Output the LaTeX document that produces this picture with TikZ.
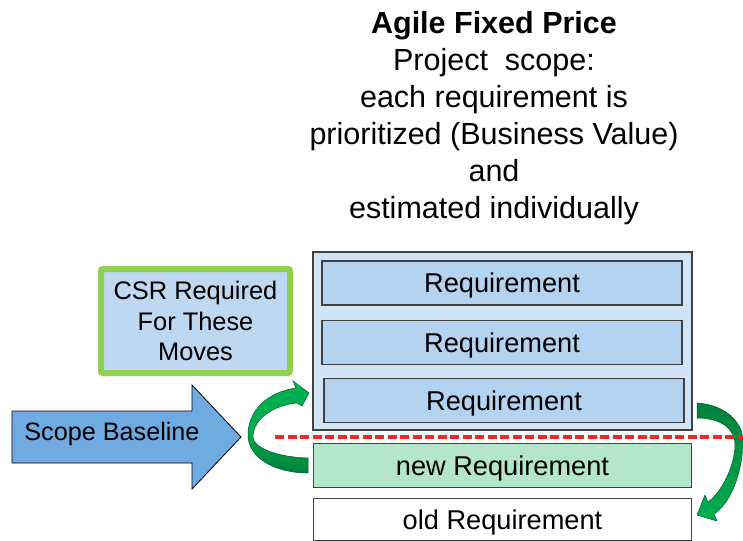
\documentclass[tikz,border=0pt]{standalone}
\usepackage{fontspec}
\setmainfont{Liberation Sans}
\usetikzlibrary{positioning}

\definecolor{boxgray}{RGB}{64,64,64}
\definecolor{scopeblue}{RGB}{111,170,224}
\definecolor{reqblue}{RGB}{180,211,240}
\definecolor{paleblue}{RGB}{209,228,246}
\definecolor{csrblue}{RGB}{190,216,241}
\definecolor{csrgreen}{RGB}{146,208,80}
\definecolor{newgreen}{RGB}{180,230,201}
\definecolor{movegreen}{RGB}{0,176,80}
\definecolor{movedark}{RGB}{0,128,60}
\definecolor{cutred}{RGB}{240,40,40}

\tikzset{
  reqbox/.style = {draw=boxgray, line width=1.3pt, fill=reqblue, inner sep=0pt,
    minimum width=360pt, minimum height=44pt, text height=19.5pt, text depth=0pt,
    font=\fontsize{27.2}{32}\selectfont},
  move/.style = {draw=movedark!70!black, line width=0.5pt},
}

\begin{document}
\begin{tikzpicture}[x=1pt, y=-1pt]
  \useasboundingbox (0,0) rectangle (743,540);

  % title
  \node[align=center, font=\fontsize{30.5}{37}\selectfont] (title) at (494,118)
    {\textbf{Agile Fixed Price}\\Project~ scope:\\each requirement is\\
     prioritized (Business Value)\\and\\estimated individually};

  % scope of the project
  \node[draw=boxgray, line width=1.3pt, fill=paleblue, minimum width=379pt,
    minimum height=178pt] (scope) at (502.5,341) {};
  \node[reqbox] (r1) at (502,283) {Requirement};
  \node[reqbox, below = 14pt of r1] (r2) {Requirement};
  \node[reqbox, below = 13pt of r2, xshift=2pt] (r3) {Requirement};
  \node[reqbox, fill=newgreen, minimum width=378pt, below = 12pt of scope.south,
    anchor=north] (new) {new Requirement};
  \node[reqbox, fill=white, minimum width=378pt, minimum height=42pt,
    below = 10pt of new] (old) {old Requirement};

  % change request box
  \node[draw=csrgreen, line width=6pt, fill=csrblue, rounded corners=2pt,
    minimum width=189pt, minimum height=104pt, align=center,
    font=\fontsize{25.4}{30.5}\selectfont] (csr) at (195.5,321)
    {CSR Required\\For These\\Moves};

  % baseline arrow
  \fill[scopeblue, draw=black, line width=0.8pt]
    (12,411) -- (192,411) -- (192,385) -- (241,437) -- (192,489)
    -- (192,463) -- (12,463) -- cycle;
  \node[font=\fontsize{25.2}{30}\selectfont] (base) at (112,434) {Scope Baseline};

  % new requirement moves in
  \shade[move, top color=movegreen, bottom color=movedark, middle color=movegreen]
    (308,458) .. controls (275,457) and (253,447) .. (253,437)
    .. controls (253,418) and (275,405) .. (297,403)
    -- (302,406) -- (309,393) -- (293,381) -- (296,388)
    .. controls (268,392) and (248,410) .. (248,435)
    .. controls (248,458) and (275,473) .. (308,473) -- cycle;

  % last requirement moves out
  \shade[move, top color=movedark, bottom color=movegreen]
    (697,403) .. controls (728,405) and (745,425) .. (743,445)
    .. controls (741,480) and (728,505) .. (714,514)
    -- (717,521) -- (697,515) -- (705,495) -- (708,502)
    .. controls (722,492) and (735,465) .. (735,445)
    .. controls (735,428) and (720,418) .. (697,418) -- cycle;

  % cut line
  \coordinate (cutL) at (275,437);
  \coordinate (cutR) at (743,437);
  \draw[cutred, line width=3.4pt, dash pattern=on 9pt off 3.5pt] (cutL) -- (cutR);
\end{tikzpicture}
\end{document}
